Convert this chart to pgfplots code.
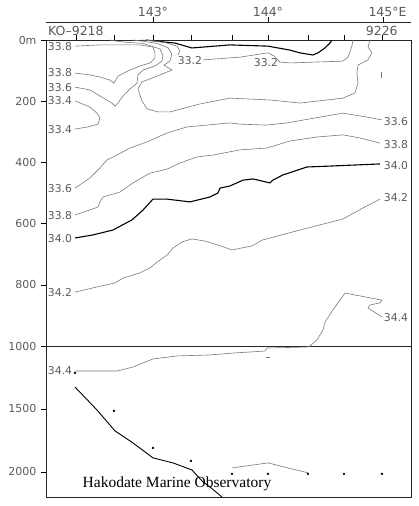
\documentclass[border=0pt]{standalone}
\usepackage{pgfplots}
\pgfplotsset{compat=1.18}
\usepackage{fontspec}
\setmainfont{Liberation Serif}
\newfontfamily\djf{DejaVu Sans}
\definecolor{cg}{HTML}{7A7A7A}
\definecolor{tg}{HTML}{5A5A5A}
\tikzset{
  lab/.style={font=\djf\fontsize{10.8}{12}\selectfont, text=tg, inner sep=0pt},
  labb/.style={font=\djf\fontsize{12.5}{14}\selectfont, text=tg, inner sep=0pt},
}
\begin{document}
\begin{tikzpicture}
\useasboundingbox (0pt,0pt) rectangle (418pt,-506pt);
\pgfplotsset{
  sec/.style={scale only axis, width=365pt, xmin=142.07, xmax=145.244, y dir=reverse, clip=false,
    axis line style={black!85, line width=0.9pt}, tick style={black, line width=0.6pt},
    tick align=outside, major tick length=5pt, ytick pos=left,
    yticklabel style={font=\djf\fontsize{11}{12}\selectfont, text=tg, xshift=-1pt},
    /pgf/number format/assume math mode=true, /pgf/number format/1000 sep={}},
  cl/.style={cg, line width=0.6pt},
  ck/.style={black, line width=1.1pt},
}
\begin{axis}[sec, name=up, at={(46pt,-40pt)}, anchor=north west, height=306pt,
  ymin=0, ymax=1000, ytick={0,200,400,600,800,1000}, yticklabels={0m,200,400,600,800,1000},
  xtick={142.330,142.661,143.000,143.330,143.687,144.000,144.348,144.661,144.991},
  xticklabels={}, xtick pos=right]
% longitude scale on top
\draw[black!85, line width=0.8pt] (axis cs:142.07,-59) -- (axis cs:145.244,-59);
\draw[black, line width=0.6pt] (axis cs:143,-59) -- (axis cs:143,-74);
\draw[black, line width=0.6pt] (axis cs:144,-59) -- (axis cs:144,-74);
\draw[black, line width=0.6pt] (axis cs:145,-59) -- (axis cs:145,-74);
\node[labb] at (axis cs:143,-92) {143°};
\node[labb] at (axis cs:144,-92) {144°};
\node[labb] at (axis cs:145.04,-92) {145°E};
\node[labb] at (axis cs:142.33,-30) {KO–9218};
\node[labb] at (axis cs:144.99,-30) {9226};
% thick 33.0
\addplot[ck] coordinates {(142.939,0)(143.061,5)(143.191,10)(143.339,26)(143.670,16)(144.000,20)(144.191,33)(144.278,42)(144.391,49)(144.435,42)(144.496,26)(144.539,10)(144.557,0)};
% 33.2
\addplot[cl] coordinates {(142.896,0)(143.017,3)(143.122,10)(143.209,20)(143.235,36)(143.217,49)};
\addplot[cl] coordinates {(143.435,65)(143.757,56)(144.000,42)(144.052,52)(144.104,72)(144.191,75)(144.652,69)(144.696,56)(144.713,39)(144.730,20)(144.739,0)};
\node[lab] at (axis cs:143.322,66) {33.2};
\node[lab] at (axis cs:143.983,75) {33.2};
% 33.4 U
\addplot[cl] coordinates {(142.826,0)(142.930,5)(143.035,11)(143.130,25)(143.165,46)(143.148,69)(143.096,82)(143.165,98)(143.061,114)(142.974,127)(142.904,137)(142.870,160)(142.904,199)(142.948,225)(143.043,235)(143.148,235)(143.409,209)(143.670,190)(144.017,196)(144.278,206)(144.652,190)(144.757,173)(144.783,141)(144.774,108)(144.783,82)(144.870,65)(144.904,42)(144.870,23)(144.887,0)};
\addplot[cl] coordinates {(144.983,105)(144.983,124)};
% 33.8 lobe
\addplot[cl] coordinates {(142.322,20)(142.539,16)(142.670,16)(142.887,16)(143.000,23)(143.017,42)(143.017,59)(142.974,75)(142.887,85)(142.783,101)(142.696,118)(142.661,141)(142.626,131)(142.539,121)(142.452,114)(142.322,108)};
% 33.6 upper
\addplot[cl] coordinates {(142.322,154)(142.452,163)(142.539,183)(142.643,206)(142.670,216)(142.696,206)(142.739,183)(142.800,160)(142.861,141)(142.870,114)(142.913,98)(143.017,85)(143.078,69)(143.087,52)(143.061,29)(142.913,11)(142.757,7)(142.670,3)(142.626,0)};
% 33.4 lobe
\addplot[cl] coordinates {(142.322,199)(142.452,219)(142.513,239)(142.539,255)(142.522,275)(142.435,284)(142.322,291)};
% 33.6 lower
\addplot[cl] coordinates {(142.322,484)(142.452,451)(142.539,418)(142.600,392)(142.687,376)(142.800,353)(142.948,333)(143.122,304)(143.296,284)(143.470,278)(143.670,271)(143.757,275)(143.991,278)(144.165,271)(144.452,252)(144.652,239)(144.861,252)(144.991,261)};
% 33.8 lower
\addplot[cl] coordinates {(142.322,572)(142.522,546)(142.539,529)(142.565,513)(142.713,497)(142.826,467)(142.974,435)(143.122,422)(143.235,402)(143.383,382)(143.522,376)(143.757,359)(143.991,353)(144.191,330)(144.426,317)(144.652,310)(144.800,320)(144.974,337)};
% 34.0
\addplot[ck] coordinates {(142.322,647)(142.478,637)(142.652,621)(142.817,588)(142.913,556)(143.000,520)(143.122,520)(143.322,529)(143.496,513)(143.565,500)(143.583,484)(143.670,477)(143.783,458)(143.870,454)(144.017,467)(144.043,458)(144.130,441)(144.339,415)(144.539,412)(144.974,405)};
% 34.2
\addplot[cl] coordinates {(142.322,824)(142.478,810)(142.670,794)(142.739,778)(142.887,761)(142.974,745)(143.035,726)(143.122,703)(143.174,680)(143.252,660)(143.339,650)(143.452,657)(143.565,670)(143.687,686)(143.861,673)(143.948,654)(144.278,621)(144.652,585)(144.826,549)(144.974,520)};
% 34.4 upper part
\addplot[cl] coordinates {(144.365,1000)(144.426,980)(144.478,948)(144.496,922)(144.565,882)(144.670,827)(144.991,850)(144.974,859)(144.887,866)(144.870,876)(144.991,905)};
% labels left
\node[lab] at (axis cs:142.191,20) {33.8};
\node[lab] at (axis cs:142.191,108) {33.8};
\node[lab] at (axis cs:142.191,154) {33.6};
\node[lab] at (axis cs:142.191,199) {33.4};
\node[lab] at (axis cs:142.191,294) {33.4};
\node[lab] at (axis cs:142.191,487) {33.6};
\node[lab] at (axis cs:142.191,575) {33.8};
\node[lab] at (axis cs:142.191,650) {34.0};
\node[lab] at (axis cs:142.191,824) {34.2};
% labels right
\node[lab] at (axis cs:145.113,268) {33.6};
\node[lab] at (axis cs:145.113,343) {33.8};
\node[lab] at (axis cs:145.113,409) {34.0};
\node[lab] at (axis cs:145.113,516) {34.2};
\node[lab] at (axis cs:145.113,908) {34.4};
\end{axis}
\begin{axis}[sec, name=lo, at={(46pt,-346pt)}, anchor=north west, height=151pt,
  ymin=1000, ymax=2200, ytick={1500,2000}, yticklabels={1500,2000}, xtick=\empty]
\addplot[cl] coordinates {(142.322,1199)(142.687,1199)(142.826,1167)(143.000,1103)(143.209,1079)(143.496,1071)(143.696,1056)(143.974,1040)(143.991,1016)(144.339,1008)(144.365,1000)};
\addplot[cl] coordinates {(143.985,1087)(144.015,1087)};
\node[lab] at (axis cs:142.191,1199) {34.4};
\addplot[black, line width=0.9pt] coordinates {(142.322,1326)(142.513,1508)(142.670,1675)(142.826,1770)(143.000,1889)(143.174,1929)(143.339,1985)(143.435,2080)(143.496,2120)(143.600,2200)};
\addplot[cl] coordinates {(143.687,1969)(144.000,1929)(144.348,2008)};
\addplot[only marks, mark=*, mark size=1pt, black] coordinates {(142.322,1214)(142.661,1516)(143.000,1810)(143.330,1913)(143.687,2016)(144.000,2016)(144.348,2016)(144.661,2016)(144.991,2016)};
\node[font=\fontsize{15.5}{17}\selectfont, inner sep=0pt] at (axis cs:143.209,2096) {Hakodate Marine Observatory};
\end{axis}
\end{tikzpicture}
\end{document}
